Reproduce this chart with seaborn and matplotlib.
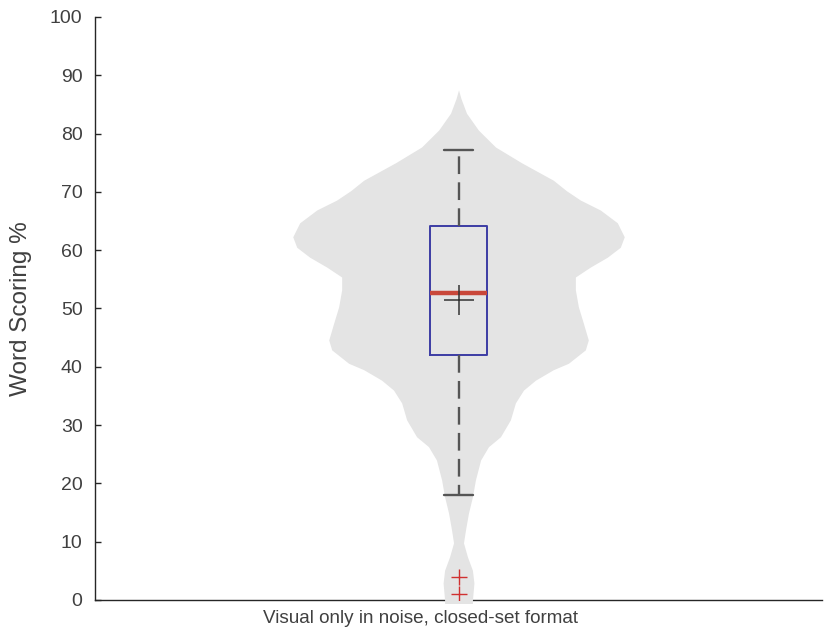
import numpy as np
import seaborn as sns
import matplotlib
matplotlib.use("Agg")
import matplotlib.pyplot as plt

# Category and summary statistics
category = "Visual only in noise, closed-set format"
q1, median, q3 = 42.0, 52.7, 64.2
whisker_low, whisker_high = 18.0, 77.1
mean_score = 51.5
outliers = [4.0, 1.0]

# Violin outline: score levels and relative density (peak = 1)
violin_levels = [-0.6, 0.0, 2.9, 5.1, 7.4, 9.8, 12.0, 14.9, 17.7, 20.6, 24.0, 26.3,
                 28.0, 30.9, 33.8, 36.0, 37.7, 39.5, 40.6, 42.9, 44.6, 47.5, 50.3,
                 53.2, 55.4, 57.1, 58.8, 60.5, 62.3, 64.7, 66.9, 68.6, 70.2, 72.0,
                 75.0, 77.7, 80.6, 83.5, 86.0, 87.5]
violin_density = [0.084, 0.084, 0.093, 0.084, 0.054, 0.030, 0.042, 0.060, 0.084,
                  0.102, 0.133, 0.181, 0.253, 0.313, 0.343, 0.392, 0.464, 0.572,
                  0.663, 0.765, 0.783, 0.753, 0.723, 0.705, 0.705, 0.795, 0.898,
                  0.976, 1.0, 0.958, 0.855, 0.735, 0.651, 0.572, 0.380, 0.223,
                  0.120, 0.048, 0.015, 0.0]

sns.set_theme(style="white")
plt.rcParams['font.family'] = ['Liberation Sans', 'DejaVu Sans']

fig = plt.figure(figsize=(8.24, 6.41), dpi=100)
ax = fig.add_axes([0.1153, 0.064, 0.8823, 0.9095])

pos = 1.0
max_half = 0.228
levels = np.array(violin_levels)
half = np.array(violin_density) * max_half
ax.fill_betweenx(levels, pos - half, pos + half, color="#e4e4e4", lw=0,
                 zorder=3, clip_on=False)

stats = [dict(med=median, q1=q1, q3=q3, whislo=whisker_low, whishi=whisker_high,
              mean=mean_score, fliers=outliers, label=category)]
ax.bxp(stats, positions=[pos], widths=0.078, capwidths=0.039, showmeans=True,
       manage_ticks=False, zorder=4,
       boxprops=dict(color="#3c3ca4", lw=1.4),
       medianprops=dict(color="#c9473a", lw=3.2, solid_capstyle="butt"),
       whiskerprops=dict(color="#555555", lw=1.7, dashes=(7.5, 3.5)),
       capprops=dict(color="#555555", lw=1.7),
       meanprops=dict(marker="+", markersize=22, markeredgecolor="#333333",
                      markeredgewidth=1.1),
       flierprops=dict(marker="+", markersize=11, markeredgecolor="#d03030",
                       markeredgewidth=1.0))

ax.set_xlim(0.5, 1.5)
ax.set_ylim(0, 100)
ax.set_yticks(range(0, 101, 10))
ax.set_xticks([])
sns.despine(ax=ax)
for side in ["left", "bottom"]:
    ax.spines[side].set_color("#262626")
    ax.spines[side].set_linewidth(1.0)
ax.tick_params(axis="y", direction="in", length=4.5, width=1.0, color="#262626",
               pad=9, labelsize=14, labelcolor="#404040", left=True)

ax.set_ylabel("Word Scoring %", fontsize=17.5, color="#404040")
ax.set_xlabel(category, fontsize=13.6, color="#404040")
ax.xaxis.set_label_coords(0.448, -0.017, transform=ax.transAxes)
ax.xaxis.label.set_va("top")
ax.yaxis.set_label_coords(-0.086, 0.5)

fig.savefig("out.png", dpi=100)
